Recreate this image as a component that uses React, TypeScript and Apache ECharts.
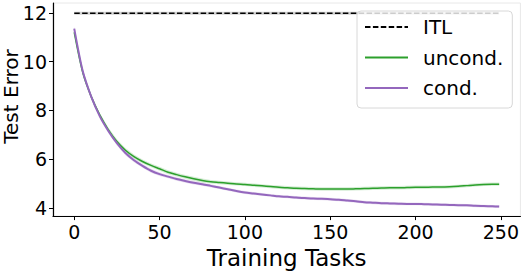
import React, { useEffect, useRef } from "react";
import * as echarts from "echarts";

const tasks = [0, 5, 10, 15, 20, 25, 30, 35, 40, 45, 50, 55, 60, 65, 70, 75, 80, 85, 90, 95, 100, 105, 110, 115, 120, 125, 130, 135, 140, 145, 150, 155, 160, 165, 170, 175, 180, 185, 190, 195, 200, 205, 210, 215, 220, 225, 230, 235, 240, 245, 249];

const uncondMean = [11.2, 9.55, 8.55, 7.8, 7.2, 6.72, 6.36, 6.1, 5.9, 5.74, 5.6, 5.46, 5.36, 5.27, 5.19, 5.12, 5.07, 5.04, 5.01, 4.98, 4.96, 4.93, 4.9, 4.87, 4.84, 4.82, 4.8, 4.79, 4.78, 4.77, 4.77, 4.77, 4.77, 4.78, 4.79, 4.8, 4.81, 4.82, 4.82, 4.83, 4.84, 4.84, 4.85, 4.85, 4.86, 4.88, 4.91, 4.94, 4.96, 4.97, 4.97];
const uncondStd = [0.1, 0.1, 0.09, 0.09, 0.09, 0.09, 0.09, 0.09, 0.08, 0.08, 0.08, 0.08, 0.08, 0.08, 0.08, 0.08, 0.07, 0.07, 0.07, 0.07, 0.07, 0.07, 0.07, 0.07, 0.07, 0.07, 0.07, 0.07, 0.07, 0.07, 0.07, 0.07, 0.07, 0.07, 0.07, 0.07, 0.07, 0.07, 0.07, 0.07, 0.07, 0.07, 0.07, 0.07, 0.07, 0.07, 0.07, 0.07, 0.07, 0.07, 0.07];

const condMean = [11.35, 9.6, 8.55, 7.75, 7.15, 6.65, 6.25, 5.95, 5.72, 5.52, 5.38, 5.28, 5.18, 5.1, 5.03, 4.97, 4.9, 4.83, 4.76, 4.69, 4.63, 4.59, 4.55, 4.51, 4.47, 4.45, 4.42, 4.4, 4.38, 4.37, 4.35, 4.33, 4.3, 4.27, 4.23, 4.21, 4.19, 4.18, 4.17, 4.16, 4.16, 4.15, 4.14, 4.13, 4.12, 4.11, 4.1, 4.08, 4.07, 4.06, 4.05];
const condStd = [0.1, 0.1, 0.09, 0.09, 0.09, 0.09, 0.09, 0.08, 0.08, 0.08, 0.08, 0.07, 0.07, 0.07, 0.07, 0.07, 0.07, 0.06, 0.06, 0.06, 0.06, 0.06, 0.06, 0.06, 0.06, 0.06, 0.06, 0.06, 0.06, 0.06, 0.06, 0.06, 0.06, 0.06, 0.06, 0.06, 0.06, 0.06, 0.06, 0.06, 0.06, 0.06, 0.06, 0.06, 0.06, 0.06, 0.06, 0.06, 0.06, 0.06, 0.06];

const itlTasks = [0, 249];
const itlMean = [11.98, 11.98];
const itlStd = [0.06, 0.06];

const xTicks = [0, 50, 100, 150, 200, 250];
const yTicks = [4, 6, 8, 10, 12];

const FONT = "DejaVu Sans";

function bandSeries(name: string, xs: number[], mean: number[], std: number[], color: string, opacity: number) {
  const data = xs.map((x, i) => [x, mean[i] - std[i], mean[i] + std[i]]);
  return {
    name,
    type: "custom",
    silent: true,
    z: 1,
    data: data,
    encode: { x: 0, y: [1, 2] },
    renderItem: (params: any, api: any) => {
      if (params.dataIndex !== 0) return null;
      const upper = data.map((d) => api.coord([d[0], d[2]]));
      const lower = data.map((d) => api.coord([d[0], d[1]])).reverse();
      return {
        type: "polygon",
        shape: { points: upper.concat(lower) },
        style: { fill: color, opacity },
      };
    },
  };
}

export default function App() {
  const ref = useRef<HTMLDivElement>(null);
  useEffect(() => {
    if (!ref.current) return;
    const chart = echarts.init(ref.current, undefined, { renderer: "svg" });
    const option: any = {
      animation: false,
      textStyle: { fontFamily: FONT },
      grid: {
        left: 53,
        top: 3,
        right: 1,
        bottom: 47,
        show: true,
        borderColor: "#e8e8e8",
        borderWidth: 1,
        backgroundColor: "transparent",
      },
      xAxis: {
        type: "value",
        min: -12.45,
        max: 261.45,
        name: "Training Tasks",
        nameLocation: "middle",
        nameGap: 25,
        nameTextStyle: { fontSize: 23, color: "#000", fontFamily: FONT, verticalAlign: "top" },
        axisLine: { show: true, onZero: false, lineStyle: { color: "#000", width: 1.2 } },
        axisTick: { show: true, length: 4, customValues: xTicks, lineStyle: { color: "#000" } },
        axisLabel: { customValues: xTicks, fontSize: 19, color: "#000", margin: 6, fontFamily: FONT },
        splitLine: { show: false },
      },
      yAxis: {
        type: "value",
        min: 3.66,
        max: 12.4,
        axisLine: { show: true, onZero: false, lineStyle: { color: "#000", width: 1.2 } },
        axisTick: { show: true, length: 4, customValues: yTicks, lineStyle: { color: "#000" } },
        axisLabel: { customValues: yTicks, fontSize: 19, color: "#000", margin: 6, fontFamily: FONT },
        splitLine: { show: false },
      },
      legend: {
        orient: "vertical",
        left: 357,
        top: 11,
        padding: [6, 9, 10, 7],
        itemWidth: 43,
        itemHeight: 14,
        itemGap: 10.5,
        itemStyle: { opacity: 0 },
        backgroundColor: "rgba(255,255,255,0.8)",
        borderColor: "#d8d8d8",
        borderWidth: 1,
        borderRadius: 4,
        textStyle: { fontSize: 20, lineHeight: 20, color: "#000", fontFamily: FONT, padding: [0, 0, 0, 10] },
        data: ["ITL", "uncond.", "cond."],
      },
      graphic: [
        {
          type: "text",
          x: 11,
          y: 96.5,
          rotation: Math.PI / 2,
          style: {
            text: "Test Error",
            fontSize: 20,
            fontFamily: FONT,
            fill: "#000",
            align: "center",
            verticalAlign: "middle",
          },
        },
      ],
      series: [
        bandSeries("itl_band", itlTasks, itlMean, itlStd, "#808080", 0.35),
        bandSeries("unc_band", tasks, uncondMean, uncondStd, "#2ca02c", 0.2),
        bandSeries("con_band", tasks, condMean, condStd, "#9467bd", 0.2),
        {
          name: "ITL",
          type: "line",
          data: itlTasks.map((x, i) => [x, itlMean[i]]),
          symbol: "none",
          lineStyle: { color: "#000", width: 1.5, type: [5.5, 2.4] },
          itemStyle: { color: "#000" },
          z: 3,
        },
        {
          name: "uncond.",
          type: "line",
          data: tasks.map((x, i) => [x, uncondMean[i]]),
          symbol: "none",
          smooth: 0.3,
          lineStyle: { color: "#2ca02c", width: 1.5 },
          itemStyle: { color: "#2ca02c" },
          z: 3,
        },
        {
          name: "cond.",
          type: "line",
          data: tasks.map((x, i) => [x, condMean[i]]),
          symbol: "none",
          smooth: 0.3,
          lineStyle: { color: "#9467bd", width: 2 },
          itemStyle: { color: "#9467bd" },
          z: 3,
        },
      ],
    };
    chart.setOption(option);
    return () => chart.dispose();
  }, []);
  return <div ref={ref} style={{ width: 522, height: 274, position: "absolute", left: 0, top: 0 }} />;
}
